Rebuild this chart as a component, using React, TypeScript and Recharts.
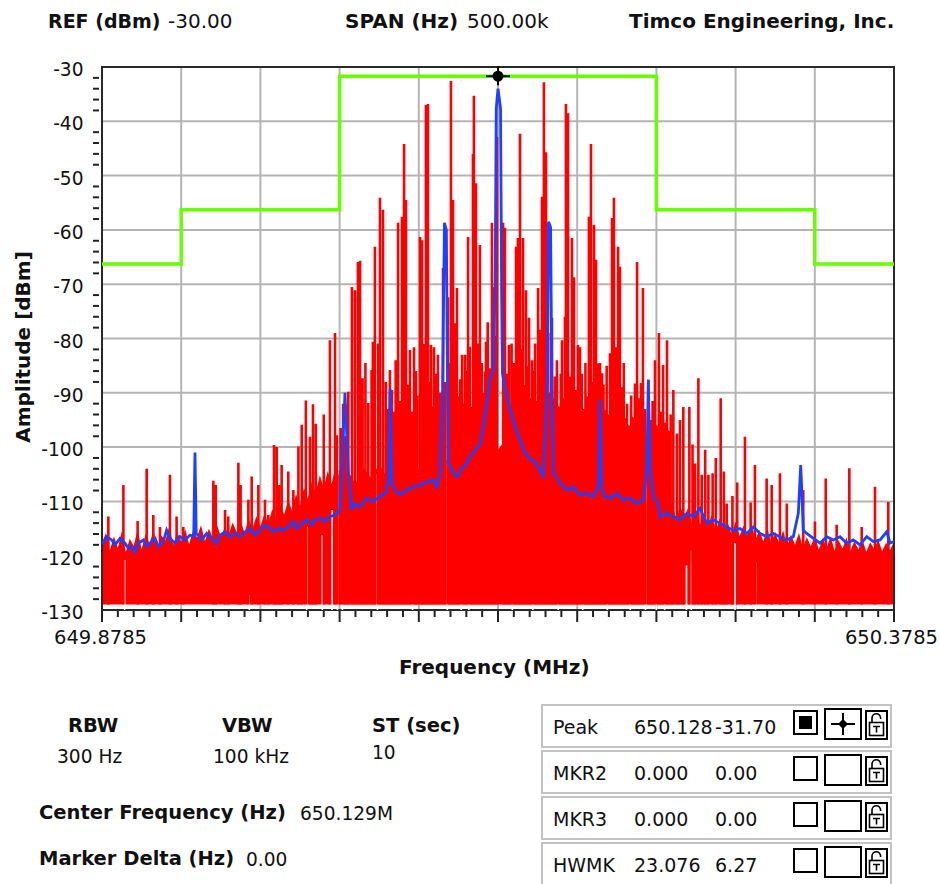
import React from "react";
import {
  ComposedChart,
  XAxis,
  YAxis,
  CartesianGrid,
  Area,
  Line,
  ReferenceArea,
  ReferenceDot,
} from "recharts";

// ---------------- data ----------------
const START_MHZ = 649.8785; // left edge of the span
const NOISE_FLOOR_DB = -129;
const CHART_FLOOR_DB = -130;

const xTicksKHz = [0, 10, 20, 30, 40, 50, 60, 70, 80, 90, 100, 110, 120, 130, 140, 150, 160, 170, 180, 190, 200, 210, 220, 230, 240, 250, 260, 270, 280, 290, 300, 310, 320, 330, 340, 350, 360, 370, 380, 390, 400, 410, 420, 430, 440, 450, 460, 470, 480, 490, 500];
const xMajorKHz = [0, 50, 100, 150, 200, 250, 300, 350, 400, 450, 500];
const xLabelKHz = [0, 500];
const yTicksDb = [-130, -128, -126, -124, -122, -120, -118, -116, -114, -112, -110, -108, -106, -104, -102, -100, -98, -96, -94, -92, -90, -88, -86, -84, -82, -80, -78, -76, -74, -72, -70, -68, -66, -64, -62, -60, -58, -56, -54, -52, -50, -48, -46, -44, -42, -40, -38, -36, -34, -32, -30];
const yMajorDb = [-130, -120, -110, -100, -90, -80, -70, -60, -50, -40, -30];

// limit mask (green)
const maskKHz = [0, 50, 150, 350, 450, 500];
const maskDb = [-66.3, -56.3, -31.7, -56.3, -66.3, -66.3];

// red trace: solid noise band top (kHz offset, dBm)
const noiseBand: [number, number][] = [
  [0, -117.5], [2.5, -115.8], [5, -119.0], [7.5, -116.4], [10, -118.6], [12.5, -115.5], [15, -119.3], [17.5, -116.9], [20, -118.2], [22.5, -115.2],
  [25, -118.8], [27.5, -116.0], [30, -117.7], [32.5, -115.4], [35, -118.5], [37.5, -116.3], [40, -117.2], [42.5, -114.6], [45, -118.0], [47.5, -115.7],
  [50, -117.4], [52.5, -115.1], [55, -117.9], [57.5, -115.3], [60, -116.6], [62.5, -114.4], [65, -117.3], [67.5, -115.0], [70, -116.8], [72.5, -114.2],
  [75, -116.5], [77.5, -114.8], [80, -116.0], [82.5, -113.9], [85, -115.7], [87.5, -113.5], [90, -115.8], [92.5, -113.2], [95, -115.0], [97.5, -112.7],
  [100, -114.6], [102.5, -112.3], [105, -114.1], [107.5, -111.4], [110, -113.2], [112.5, -110.6], [115, -112.4], [117.5, -109.8], [120, -111.7], [122.5, -108.6],
  [125, -110.8], [127.5, -107.5], [130, -109.6], [132.5, -106.3], [135, -108.4], [137.5, -105.2], [140, -107.5], [142.5, -104.4], [145, -106.8], [147.5, -103.5],
  [150, -105.6], [155, -104.2], [160, -106.8], [165, -103.9], [170, -105.7], [175, -103.1], [180, -105.5], [185, -102.6], [190, -104.8], [195, -102.2],
  [200, -104.1], [205, -101.7], [210, -103.6], [215, -101.0], [220, -103.9], [225, -100.6], [230, -102.8], [235, -100.1], [240, -101.5], [245, -98.8],
  [250, -100.5], [255, -98.6], [260, -101.2], [265, -99.8], [270, -102.3], [275, -100.4], [280, -103.1], [285, -101.0], [290, -103.7], [295, -101.9],
  [300, -104.3], [305, -102.4], [310, -104.9], [315, -103.0], [320, -105.4], [325, -103.6], [330, -106.0], [335, -104.1], [340, -106.7], [345, -105.2],
  [350, -108.5], [352.5, -111.8], [355, -109.6], [357.5, -112.5], [360, -110.2], [362.5, -113.4], [365, -110.9], [367.5, -112.9], [370, -111.2], [372.5, -114.1],
  [375, -111.6], [377.5, -114.3], [380, -112.6], [382.5, -114.9], [385, -112.3], [387.5, -115.5], [390, -113.0], [392.5, -115.2], [395, -113.8], [397.5, -116.1],
  [400, -113.7], [402.5, -116.4], [405, -114.5], [407.5, -116.2], [410, -114.3], [412.5, -117.0], [415, -115.2], [417.5, -117.4], [420, -114.9], [422.5, -117.6],
  [425, -115.6], [427.5, -117.8], [430, -115.3], [432.5, -118.2], [435, -116.1], [437.5, -118.0], [440, -115.8], [442.5, -118.5], [445, -116.6], [447.5, -118.3],
  [450, -116.2], [452.5, -118.9], [455, -116.8], [457.5, -118.6], [460, -116.4], [462.5, -119.1], [465, -117.1], [467.5, -118.7], [470, -116.6], [472.5, -119.2],
  [475, -117.3], [477.5, -118.9], [480, -116.9], [482.5, -119.3], [485, -117.5], [487.5, -118.8], [490, -117.0], [492.5, -119.2], [495, -117.6], [497.5, -119.0],
  [500, -117.4],
];

// red trace: tall spikes in the modulated band (kHz offset, peak dBm)
const bandSpikes: [number, number][] = [
  [126.1, -95.9], [128.7, -91.4], [133.2, -92.1], [135.0, -95.7], [140.0, -94.0], [143.9, -80.3], [147.1, -79.0], [148.2, -97.8], [155.5, -89.8],
  [157.8, -70.5], [159.7, -71.1], [161.6, -65.9], [162.9, -65.7], [164.5, -87.3], [168.1, -91.9], [170.2, -85.8], [171.0, -80.6], [172.3, -63.1],
  [174.4, -80.9], [175.5, -54.1], [177.4, -56.3], [181.8, -85.8], [184.0, -93.5], [186.9, -58.7], [189.4, -57.6], [190.7, -44.2], [191.9, -54.5],
  [194.4, -82.1], [197.0, -81.6], [199.0, -90.5], [200.8, -61.3], [202.0, -61.9], [203.2, -81.0], [204.5, -37.0], [205.8, -36.8], [207.7, -81.2],
  [209.6, -81.6], [212.1, -83.0], [215.3, -67.0], [218.4, -72.4], [220.3, -32.6], [221.6, -54.5], [222.9, -77.2], [224.1, -70.7], [225.0, -90.7],
  [227.3, -83.0], [229.2, -83.0], [231.1, -61.3], [233.4, -92.6], [234.2, -46.0], [234.8, -35.3], [236.1, -51.4], [237.6, -80.9], [238.6, -62.8],
  [241.8, -86.1], [242.4, -80.6], [245.0, -85.5], [246.2, -58.7], [247.5, -70.5], [249.4, -42.9], [253.2, -58.7], [254.4, -59.6], [256.9, -81.2],
  [258.6, -80.9], [261.4, -63.1], [262.6, -61.5], [263.9, -42.3], [265.8, -61.5], [267.7, -71.1], [269.6, -76.2], [271.5, -84.0], [273.4, -80.9],
  [275.3, -70.7], [276.5, -78.4], [277.8, -53.9], [279.0, -32.8], [280.3, -45.7], [284.1, -76.2], [286.0, -87.0], [290.4, -80.3], [292.3, -76.0],
  [292.9, -36.8], [294.2, -38.5], [296.7, -61.5], [298.0, -68.7], [300.5, -81.2], [301.8, -81.6], [306.0, -90.7], [307.4, -57.6], [308.7, -44.2],
  [310.6, -59.1], [311.9, -65.5], [313.3, -84.6], [314.4, -84.5], [315.7, -86.4], [317.5, -93.2], [320.7, -82.7], [322.0, -57.8], [323.2, -54.1],
  [324.5, -81.6], [325.8, -63.1], [327.0, -66.8], [328.6, -89.0], [330.2, -94.7], [336.5, -88.3], [337.8, -65.9], [340.3, -88.2], [341.5, -70.7],
  [344.9, -87.6], [349.1, -84.0], [351.6, -79.0], [354.2, -84.9], [356.7, -80.3],
];

// red trace: lower comb lines filling the modulated band
const combSpikes: [number, number][] = [
  [150.6, -96.5], [152.2, -92.0], [153.8, -98.0], [166.3, -84.5], [179.2, -88.0], [180.5, -93.0], [183.0, -89.5], [185.4, -84.0], [188.2, -91.5],
  [193.2, -88.5], [195.7, -93.5], [198.2, -86.0], [206.8, -88.0], [208.6, -92.5], [210.9, -86.5], [213.6, -90.0], [216.6, -88.0], [219.3, -84.5],
  [226.2, -87.5], [228.3, -92.0], [230.1, -86.0], [232.2, -81.5], [235.5, -88.5], [239.7, -84.5], [240.9, -90.0], [243.5, -77.0], [244.3, -88.0],
  [248.3, -79.5], [255.6, -86.5], [257.8, -92.0], [259.9, -84.5], [260.6, -90.0], [264.9, -82.0], [266.8, -88.5], [268.6, -85.0], [270.6, -91.0],
  [272.4, -86.0], [274.4, -91.5], [278.4, -86.0], [281.3, -83.5], [282.6, -90.0], [283.3, -79.0], [285.1, -91.0], [287.2, -84.0], [288.8, -92.5],
  [289.6, -86.5], [291.3, -91.0], [295.4, -87.0], [297.4, -82.5], [299.3, -89.5], [302.9, -86.5], [304.4, -93.0], [305.2, -84.5], [309.6, -88.0],
  [312.6, -91.5], [316.6, -88.5], [318.6, -85.0], [319.6, -94.0], [321.4, -89.0], [326.4, -90.5], [329.4, -84.5], [331.5, -92.0], [332.8, -96.0],
  [334.1, -90.5], [335.3, -94.5], [338.9, -91.0], [339.6, -96.5], [342.8, -93.0], [346.0, -95.0], [347.6, -91.5], [348.3, -98.0], [350.3, -96.0],
  [353.0, -93.5], [355.4, -95.5], [357.8, -97.0], [359.0, -94.0],
];

// red trace: smaller spikes on the skirts
const skirtSpikes: [number, number][] = [
  [4.0, -112.8], [13.5, -107.0], [22.5, -113.6], [28.2, -104.0], [32.4, -112.5], [36.6, -114.7], [42.9, -105.1], [47.1, -112.8], [51.3, -114.7],
  [70.3, -106.2], [71.8, -107.0], [77.7, -111.6], [79.7, -112.8], [86.1, -102.9], [87.5, -107.0], [92.4, -109.7], [94.5, -105.4], [98.7, -107.0],
  [102.9, -109.7], [105.0, -112.5], [108.6, -99.6], [110.3, -100.0], [111.7, -107.0], [113.4, -103.3], [117.6, -104.5], [120.8, -107.9], [124.0, -99.9],
  [131.3, -98.1], [150.3, -104.2],
  [346.6, -104.0], [360.7, -89.5], [363.0, -97.5], [364.9, -95.0], [367.0, -92.6], [370.8, -92.6], [372.8, -99.5], [374.4, -103.0], [376.5, -87.3],
  [378.6, -105.1], [380.8, -100.5], [382.8, -105.1], [385.5, -104.8], [387.5, -102.0], [390.6, -91.0], [392.6, -104.5], [394.4, -110.4], [398.0, -109.0],
  [401.0, -106.5], [405.9, -98.1], [409.5, -110.2], [412.2, -103.3], [419.6, -105.8], [422.8, -107.0], [428.0, -104.8], [432.3, -110.4], [442.7, -107.9],
  [450.1, -113.7], [456.9, -105.8], [463.8, -114.3], [471.8, -103.9], [479.6, -114.7], [488.0, -107.3], [496.4, -110.1],
];

// red trace: narrow dips (white streaks) reaching down to the axis
const traceDips: [number, number][] = [
  [14.3, -120.8], [93.0, -127.2], [129.2, -114.7], [139.1, -116.2], [145.2, -111.6], [148.6, -104.8], [151.8, -120.0], [173.9, -105.0],
  [196.0, -108.0], [218.0, -102.8], [226.8, -104.0], [231.6, -105.0], [259.0, -103.0], [272.0, -104.0], [288.0, -104.8], [303.5, -107.0],
  [319.0, -108.0], [333.5, -108.0], [343.1, -98.7], [349.9, -112.9], [355.2, -114.0], [369.0, -121.8], [372.0, -119.0], [399.6, -117.7],
  [412.6, -121.2],
];

// blue trace (average)
const averageTrace: [number, number][] = [
  [0.0, -117.4], [0.8, -117.7], [3.0, -116.5], [6.1, -117.1], [8.2, -118.0], [11.4, -116.8], [14.5, -117.7], [16.6, -118.6], [18.7, -118.3], [20.8, -119.3],
  [22.9, -117.7], [26.1, -117.1], [28.2, -118.3], [30.3, -117.7], [33.5, -116.8], [35.6, -118.3], [38.7, -117.4], [40.8, -115.3], [42.9, -116.8], [46.1, -117.7],
  [49.2, -116.5], [52.4, -117.1], [55.6, -116.2], [57.9, -116.5], [58.7, -101.0], [59.5, -116.0], [60.8, -116.2], [62.9, -117.1], [66.1, -115.9], [69.2, -116.8],
  [72.4, -117.7], [74.5, -116.2], [77.7, -115.6], [80.8, -116.5], [84.0, -115.9], [87.1, -116.5], [90.3, -115.6], [93.4, -115.0], [96.6, -116.2], [99.7, -115.3],
  [102.9, -114.3], [105.0, -114.7], [108.1, -115.6], [111.3, -115.0], [114.5, -115.3], [117.6, -114.7], [120.8, -113.7], [122.9, -115.0], [126.1, -114.0], [129.2, -113.4],
  [132.4, -114.3], [134.5, -113.4], [137.7, -113.1], [140.8, -113.7], [143.9, -112.8], [147.1, -112.5], [150.3, -111.6], [151.3, -104.8], [153.4, -90.0], [155.5, -104.8],
  [157.6, -111.6], [158.7, -110.4], [162.9, -111.0], [167.1, -109.4], [171.3, -110.0], [175.5, -109.1], [178.7, -108.5], [181.0, -106.0], [181.8, -89.2], [182.8, -106.5],
  [185.0, -107.9], [188.1, -108.8], [192.4, -107.9], [196.5, -107.3], [200.8, -107.0], [205.0, -106.4], [209.2, -106.1], [211.3, -107.3], [213.4, -104.8], [215.0, -90.0],
  [216.2, -58.7], [217.4, -60.0], [218.2, -90.0], [218.6, -103.0], [221.8, -104.8], [223.9, -105.4], [227.1, -103.9], [230.2, -103.0], [232.3, -101.8], [235.5, -100.5],
  [238.6, -99.6], [240.7, -96.2], [242.9, -91.9], [244.9, -87.6], [247.0, -85.8], [248.2, -70.0], [248.9, -37.6], [250.0, -34.0], [251.6, -37.6], [252.3, -72.0],
  [252.8, -86.4], [254.4, -88.9], [257.6, -93.2], [260.7, -96.2], [263.9, -98.7], [267.0, -101.1], [270.2, -102.1], [273.4, -102.7], [276.5, -104.2], [278.6, -105.4],
  [281.2, -88.0], [281.9, -58.5], [283.2, -59.5], [284.0, -88.0], [284.9, -104.8], [288.1, -106.1], [291.2, -107.3], [294.4, -107.9], [297.5, -107.3], [301.8, -108.8],
  [306.0, -108.5], [310.2, -109.1], [313.6, -107.0], [314.4, -91.3], [315.3, -107.5], [317.5, -109.1], [320.7, -109.4], [324.9, -108.5], [329.1, -109.7], [333.3, -109.4],
  [337.6, -110.4], [341.8, -109.7], [344.0, -104.0], [344.9, -87.6], [346.0, -104.2], [348.1, -109.1], [351.2, -110.4], [352.3, -112.8], [356.5, -112.2], [360.7, -112.8],
  [364.9, -113.4], [369.1, -112.2], [373.3, -112.8], [377.5, -111.3], [381.8, -114.0], [385.9, -113.4], [390.2, -114.0], [394.4, -114.7], [398.6, -115.3], [402.8, -115.0],
  [407.0, -115.9], [411.2, -114.7], [415.4, -115.9], [419.6, -116.5], [423.8, -115.9], [428.0, -116.5], [432.3, -117.1], [436.4, -116.5], [439.6, -112.2], [441.1, -103.3],
  [442.2, -111.0], [442.7, -115.3], [444.9, -115.9], [449.1, -116.8], [453.3, -117.7], [457.5, -116.5], [461.7, -117.1], [465.9, -116.5], [470.1, -117.7], [474.3, -117.1],
  [478.5, -118.0], [482.8, -116.5], [486.9, -117.4], [491.2, -117.1], [495.4, -115.6], [497.5, -117.7], [500.0, -117.4],
];

const peakFreqMHz = 650.1285;
const peakAmpDb = -31.7;

// panel values
const headerNames = ["REF (dBm)", "SPAN (Hz)"];
const headerValues = ["-30.00", "500.00k"];
const company = "Timco Engineering, Inc.";
const settingNames = ["RBW", "VBW", "ST (sec)"];
const settingValues = ["300 Hz", "100 kHz", "10"];
const centerFreqText = "650.129M";
const markerDeltaText = "0.00";
const markerNames = ["Peak", "MKR2", "MKR3", "HWMK"];
const markerFreqs = ["650.128", "0.000", "0.000", "23.076"];
const markerAmps = ["-31.70", "0.00", "0.00", "6.27"];
const markerActive = [true, false, false, false];

// ---------------- tables for the library ----------------
const bandData = noiseBand.map(([k, top]) => ({ k, range: [NOISE_FLOOR_DB, top] }));
const spikeData = [...bandSpikes, ...combSpikes, ...skirtSpikes]
  .sort((a, b) => a[0] - b[0])
  .flatMap(([k, v]) => [{ k, v: NOISE_FLOOR_DB }, { k, v }, { k, v: null }]);
const dipData = traceDips.flatMap(([k, v]) => [{ k, v: CHART_FLOOR_DB }, { k, v }, { k, v: null }]);
const avgData = averageTrace.map(([k, v]) => ({ k, v }));
const maskData = maskKHz.map((k, i) => ({ k, v: maskDb[i] }));
const peakKHz = (peakFreqMHz - START_MHZ) * 1000;

const FONT = '"DejaVu Sans", Verdana, sans-serif';
const TXT = "#111";

const XTick = (props: any) => {
  const { x, y, payload } = props;
  const k = payload.value;
  const major = xMajorKHz.includes(k);
  const showLabel = xLabelKHz.includes(k);
  return (
    <g>
      <line x1={x} x2={x} y1={y + 1} y2={y + (major ? 12 : 7)} stroke="#222" strokeWidth={2} />
      {showLabel && (
        <text
          x={k === 0 ? x - 1.5 : x + 44}
          y={y + 27}
          textAnchor={k === 0 ? "middle" : "end"}
          dominantBaseline="central"
          fontSize={19.5}
          fontFamily={FONT}
          fill={TXT}
        >
          {(START_MHZ + k / 1000).toFixed(4)}
        </text>
      )}
    </g>
  );
};

const YTick = (props: any) => {
  const { x, y, payload } = props;
  const v = payload.value;
  if (yMajorDb.includes(v)) {
    return (
      <text x={x - 18.5} y={y + 2.5} textAnchor="end" dominantBaseline="central" fontSize={18.6} fontFamily={FONT} fill={TXT}>
        {v}
      </text>
    );
  }
  return <line x1={x - 9} x2={x - 3} y1={y} y2={y} stroke="#222" strokeWidth={2} />;
};

const MarkerShape = (props: any) => {
  const { cx, cy } = props;
  return (
    <g>
      <line x1={cx} x2={cx} y1={cy - 10} y2={cy + 9} stroke="#000" strokeWidth={2} />
      <line x1={cx - 12} x2={cx + 12} y1={cy} y2={cy} stroke="#000" strokeWidth={2} />
      <circle cx={cx} cy={cy} r={5.5} fill="#000" />
    </g>
  );
};

function Txt(props: { x: number; cy: number; size: number; bold?: boolean; children: React.ReactNode }) {
  const { x, cy, size, bold, children } = props;
  const lh = Math.round(size * 1.25);
  return (
    <div
      style={{
        position: "absolute",
        left: x,
        top: cy - lh / 2,
        fontSize: size,
        lineHeight: lh + "px",
        height: lh,
        fontWeight: bold ? 700 : 400,
        fontFamily: FONT,
        whiteSpace: "nowrap",
        color: TXT,
      }}
    >
      {children}
    </div>
  );
}

const LockIcon = () => (
  <svg width={23} height={30} viewBox="0 0 23 30">
    <rect x={1} y={1} width={21} height={28} fill="#fff" stroke="#000" strokeWidth={2} />
    <path d="M7 12.5 V8 A4.3 4.3 0 0 1 15.6 8 V9" fill="none" stroke="#000" strokeWidth={1.6} />
    <rect x={4.5} y={12.5} width={14} height={13} fill="#fff" stroke="#000" strokeWidth={1.6} />
    <path d="M8 16.5 H15 M11.5 16.5 V22.5" stroke="#000" strokeWidth={1.6} fill="none" />
  </svg>
);

const CrossIcon = () => (
  <svg width={34} height={28} viewBox="0 0 34 28" style={{ display: "block" }}>
    <line x1={5} x2={29} y1={14} y2={14} stroke="#000" strokeWidth={2} />
    <line x1={17} x2={17} y1={3} y2={25} stroke="#000" strokeWidth={2} />
    <path d="M17 9 L22 14 L17 19 L12 14 Z" fill="#000" />
  </svg>
);

function MarkerRow({ i }: { i: number }) {
  const top = 704 + 46 * i;
  const active = markerActive[i];
  return (
    <>
      <div style={{ position: "absolute", left: 541, top, width: 351, height: 44, boxSizing: "border-box", border: "2px solid #c2c2c2", background: "#fff" }} />
      <Txt x={553} cy={top + 23} size={19}>{markerNames[i]}</Txt>
      <Txt x={634} cy={top + 23} size={19}>{markerFreqs[i]}</Txt>
      <Txt x={715} cy={top + 23} size={19}>{markerAmps[i]}</Txt>
      <div style={{ position: "absolute", left: 793, top: top + 6, width: 25, height: 25, boxSizing: "border-box", border: "2px solid #000", background: "#fff" }}>
        {active && <div style={{ position: "absolute", left: 4, top: 4, width: 13, height: 13, background: "#000" }} />}
      </div>
      <div style={{ position: "absolute", left: 824, top: top + 4, width: 38, height: 32, boxSizing: "border-box", border: "2px solid #000", background: "#fff" }}>
        {active && <CrossIcon />}
      </div>
      <div style={{ position: "absolute", left: 865, top: top + 6 }}>
        <LockIcon />
      </div>
    </>
  );
}

export default function App() {
  return (
    <div style={{ position: "absolute", left: 0, top: 0, width: 940, height: 884, overflow: "hidden", background: "#fff" }}>
      {/* header */}
      <Txt x={48} cy={21} size={19} bold>{headerNames[0]}</Txt>
      <Txt x={168} cy={21} size={20}>{headerValues[0]}</Txt>
      <Txt x={345} cy={21} size={20} bold>{headerNames[1]}</Txt>
      <Txt x={467} cy={21} size={20}>{headerValues[1]}</Txt>
      <Txt x={629} cy={21} size={20} bold>{company}</Txt>

      <div style={{ position: "absolute", left: 0, top: 0 }}>
        <ComposedChart width={940} height={700} margin={{ top: 67, right: 46, bottom: 60, left: 42 }}>
          <CartesianGrid stroke="#b4b4b4" strokeWidth={2} horizontalValues={yMajorDb} verticalValues={xMajorKHz} />
          <XAxis
            type="number"
            dataKey="k"
            domain={[0, 500]}
            ticks={xTicksKHz}
            interval={0}
            tickLine={false}
            axisLine={false}
            tickSize={0}
            tickMargin={0}
            height={30}
            tick={XTick}
            allowDataOverflow
          />
          <YAxis
            type="number"
            domain={[-130, -30]}
            ticks={yTicksDb}
            interval={0}
            tickLine={false}
            axisLine={false}
            tickSize={0}
            tickMargin={0}
            width={60}
            tick={YTick}
            allowDataOverflow
          />
          <Area data={bandData} dataKey="range" type="linear" stroke="none" fill="#ff0000" fillOpacity={1} isAnimationActive={false} dot={false} activeDot={false} />
          <Line data={dipData} dataKey="v" type="linear" stroke="#ffffff" strokeWidth={1.6} dot={false} activeDot={false} isAnimationActive={false} connectNulls={false} />
          <Line data={spikeData} dataKey="v" type="linear" stroke="#ff0000" strokeWidth={2.6} dot={false} activeDot={false} isAnimationActive={false} connectNulls={false} />
          <Line data={avgData} dataKey="v" type="linear" stroke="#1e40ff" strokeWidth={2.8} dot={false} activeDot={false} isAnimationActive={false} />
          <Line data={maskData} dataKey="v" type="stepAfter" stroke="#66ff00" strokeWidth={3.5} dot={false} activeDot={false} isAnimationActive={false} />
          <ReferenceArea x1={0} x2={500} y1={-130} y2={-30} fill="none" stroke="#2a2a2a" strokeWidth={2} />
          <ReferenceDot x={peakKHz} y={peakAmpDb} r={5} shape={MarkerShape} />
        </ComposedChart>
      </div>

      {/* axis titles */}
      <Txt x={399} cy={667} size={20} bold>Frequency (MHz)</Txt>
      <div
        style={{
          position: "absolute",
          left: 23 - 120,
          top: 347 - 13,
          width: 240,
          height: 26,
          lineHeight: "26px",
          textAlign: "center",
          transform: "rotate(-90deg)",
          fontFamily: FONT,
          fontWeight: 700,
          fontSize: 20,
          color: TXT,
          whiteSpace: "nowrap",
        }}
      >
        Amplitude [dBm]
      </div>

      {/* settings panel */}
      <Txt x={68} cy={726} size={19.5} bold>{settingNames[0]}</Txt>
      <Txt x={222} cy={726} size={19.5} bold>{settingNames[1]}</Txt>
      <Txt x={372} cy={726} size={19.5} bold>{settingNames[2]}</Txt>
      <Txt x={57} cy={756} size={18.6}>{settingValues[0]}</Txt>
      <Txt x={213} cy={756} size={18.6}>{settingValues[1]}</Txt>
      <Txt x={372} cy={752} size={18.6}>{settingValues[2]}</Txt>
      <Txt x={39} cy={813} size={19.5} bold>Center Frequency (Hz)</Txt>
      <Txt x={300} cy={813} size={18.6}>{centerFreqText}</Txt>
      <Txt x={39} cy={859} size={19.5} bold>Marker Delta (Hz)</Txt>
      <Txt x={246} cy={859} size={18.6}>{markerDeltaText}</Txt>

      {/* marker table */}
      {markerNames.map((_, i) => (
        <MarkerRow key={i} i={i} />
      ))}
    </div>
  );
}
